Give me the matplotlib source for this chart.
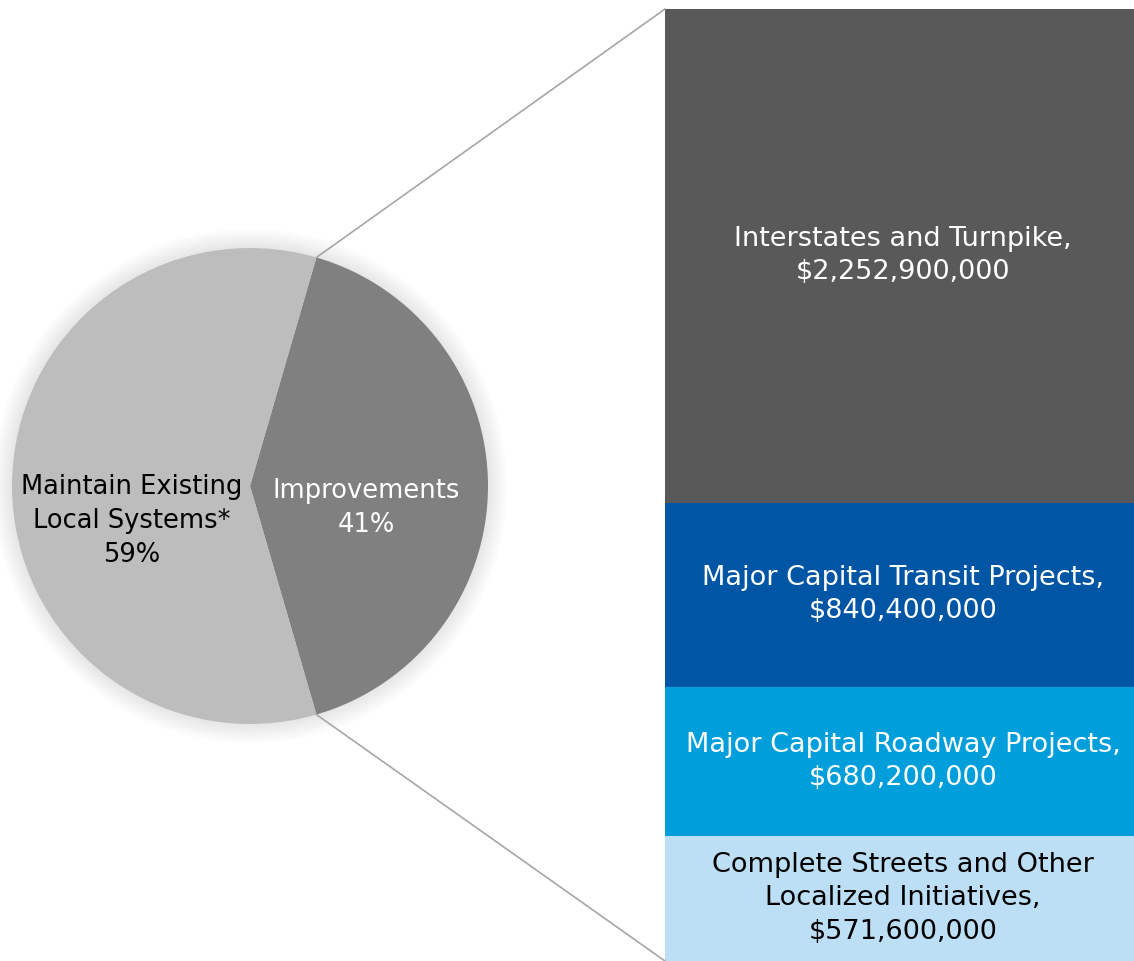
import numpy as np
import matplotlib.pyplot as plt
from matplotlib.patches import ConnectionPatch, Circle

# pie: share of the program
pie_labels = ["Maintain Existing\nLocal Systems*", "Improvements"]
pie_shares = [59, 41]
pie_colors = ["#bdbdbd", "#808080"]

# bar: breakdown of improvements (dollars)
bar_labels = ["Interstates and Turnpike,",
              "Major Capital Transit Projects,",
              "Major Capital Roadway Projects,",
              "Complete Streets and Other\nLocalized Initiatives,"]
bar_values = [2252900000, 840400000, 680200000, 571600000]
bar_colors = ["#595959", "#0055a4", "#009edb", "#bcdff5"]
bar_text_colors = ["white", "white", "white", "black"]

W, H = 1134, 961
fig = plt.figure(figsize=(W / 100, H / 100), dpi=100)
fig.patch.set_facecolor("white")

# pie axes
cx, cy, r = 250, 961 - 486, 238
ax_pie = fig.add_axes([(cx - r) / W, (cy - r) / H, 2 * r / W, 2 * r / H])

# soft shadow behind the pie
for k in range(8, 0, -1):
    ax_pie.add_patch(Circle((0, 0), 1 + k * 0.01, color="black", alpha=0.01,
                            lw=0, clip_on=False, zorder=0))

angle = -pie_shares[1] / 100 * 360 / 2  # improvements centred on the right
wedges, _ = ax_pie.pie(pie_shares[::-1], colors=pie_colors[::-1],
                       startangle=angle, counterclock=True,
                       wedgeprops=dict(linewidth=0))
ax_pie.set_xlim(-1, 1)
ax_pie.set_ylim(-1, 1)
ax_pie.set_aspect("equal")
ax_pie.axis("off")

ax_pie.text(-0.496, -0.147, f"{pie_labels[0]}\n{pie_shares[0]}%", ha="center", va="center",
            fontsize=18.5, color="black", linespacing=1.42)
ax_pie.text(0.487, -0.092, f"{pie_labels[1]}\n{pie_shares[1]}%", ha="center", va="center",
            fontsize=18.5, color="white", linespacing=1.42)

# stacked bar axes
bx0, btop = 665, 9
bar_w = 476
ax_bar = fig.add_axes([bx0 / W, 0, (W - bx0) / W, (H - btop) / H])
total = sum(bar_values)
bottom = total
for lab, val, col, tcol in zip(bar_labels, bar_values, bar_colors, bar_text_colors):
    bottom -= val
    ax_bar.bar(0, val, width=1, bottom=bottom, color=col, align="edge", linewidth=0)
    ax_bar.text(0.5, bottom + val / 2, f"{lab}\n${val:,.0f}", ha="center", va="center",
                fontsize=19.5, color=tcol, linespacing=1.36)
ax_bar.set_xlim(0, (W - bx0) / bar_w)
ax_bar.set_ylim(0, total)
ax_bar.axis("off")

# connecting lines from the improvements wedge to the bar
imp = wedges[0]
for th, yb in [(imp.theta2, total), (imp.theta1, 0)]:
    x = np.cos(np.radians(th))
    y = np.sin(np.radians(th))
    con = ConnectionPatch(xyA=(0, yb), coordsA=ax_bar.transData,
                          xyB=(x, y), coordsB=ax_pie.transData,
                          color="#a6a6a6", linewidth=1.2)
    fig.add_artist(con)

fig.savefig("out.png", dpi=100)
